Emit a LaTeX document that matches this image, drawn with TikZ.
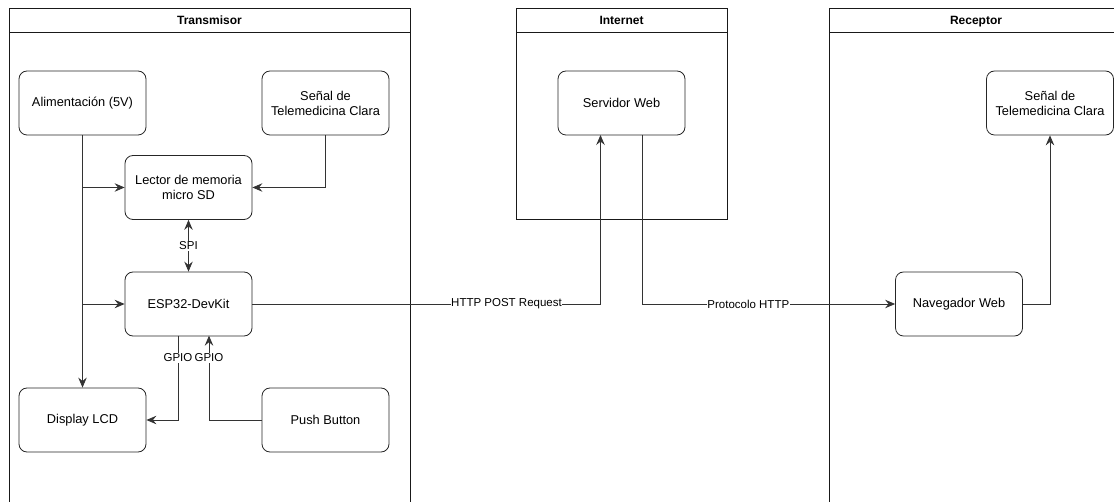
\documentclass[tikz,border=0pt]{standalone}
\usepackage{fontspec}
\setmainfont{Liberation Sans}
\usetikzlibrary{arrows.meta,positioning}
\tikzset{
  blk/.style={draw=black!85, line width=0.8pt, rounded corners=8pt, minimum width=127pt, minimum height=64pt, inner sep=0pt, align=center, font=\fontsize{12.8}{15}\selectfont},
  cont/.style={draw=black!90, line width=0.8pt},
  hdr/.style={font=\bfseries\fontsize{12}{14}\selectfont, anchor=base},
  wire/.style={draw=black!80, line width=0.8pt},
  tip/.style={},
  arr/.style={wire, -{Stealth[length=10pt,width=8.5pt,inset=3.5pt]}},
  darr/.style={wire, {Stealth[length=10pt,width=8.5pt,inset=3.5pt]}-{Stealth[length=10pt,width=8.5pt,inset=3.5pt]}},
  lbl/.style={fill=white, inner xsep=0.5pt, inner ysep=1pt, font=\fontsize{11.5}{13}\selectfont}
}
\begin{document}
\begin{tikzpicture}[x=1pt,y=-1pt]
\useasboundingbox (0,0) rectangle (1114,502);
\clip (0,0) rectangle (1114,502);
% containers
\draw[cont] (9,510) -- (9,8) -- (410,8) -- (410,510);
\draw[cont] (9,32) -- (410,32);
\node[hdr] (tx) at (209.5,24.5) {Transmisor};
\draw[cont] (516,8) rectangle (727,219);
\draw[cont] (516,32) -- (727,32);
\node[hdr] (inet) at (621.5,24.5) {Internet};
\draw[cont] (829.5,510) -- (829.5,8) -- (1120,8);
\draw[cont] (829.5,32) -- (1120,32);
\node[hdr] (rx) at (976,24.5) {Receptor};
% nodes
\node[blk] (ali) at (82.5,103) {Alimentación (5V)};
\node[blk] (sen) at (325.5,103) {Señal de\\Telemedicina Clara};
\node[blk] (sd) at (188.5,187.5) {Lector de memoria\\micro SD};
\node[blk] (esp) at (188.5,304) {ESP32-DevKit};
\node[blk] (lcd) at (82.5,420) {Display LCD};
\node[blk] (btn) at (325.5,420) {Push Button};
\node[blk] (srv) at (621.5,103) {Servidor Web};
\node[blk] (nav) at (959,304) {Navegador Web};
\node[blk] (sen2) at (1050,103) {Señal de\\Telemedicina Clara};
% connectors
\draw[arr] (ali.south) -- (lcd.north);
\draw[arr] (ali.south |- sd.west) -- (sd.west);
\draw[arr] (ali.south |- esp.west) -- (esp.west);
\draw[arr] (sen.south) |- (sd.east);
\draw[darr] (sd.south) -- node[lbl] {SPI} (esp.north);
\coordinate (g1) at (178,335.7);
\coordinate (g2) at (209,335.7);
\draw[arr] (g1) |- node[lbl, pos=0.13] {GPIO} (lcd.east);
\draw[arr] (btn.west) -| node[lbl, pos=0.87] {GPIO} (g2);
\coordinate (s1) at (600.5,135);
\coordinate (s2) at (642,135);
\draw[arr] (esp.east) -| node[lbl, pos=0.365] {HTTP POST Request} (s1);
\draw[arr] (s2) |- node[lbl, pos=0.71] {Protocolo HTTP} (nav.west);
\draw[arr] (nav.east) -| (sen2.south);
\end{tikzpicture}
\end{document}
